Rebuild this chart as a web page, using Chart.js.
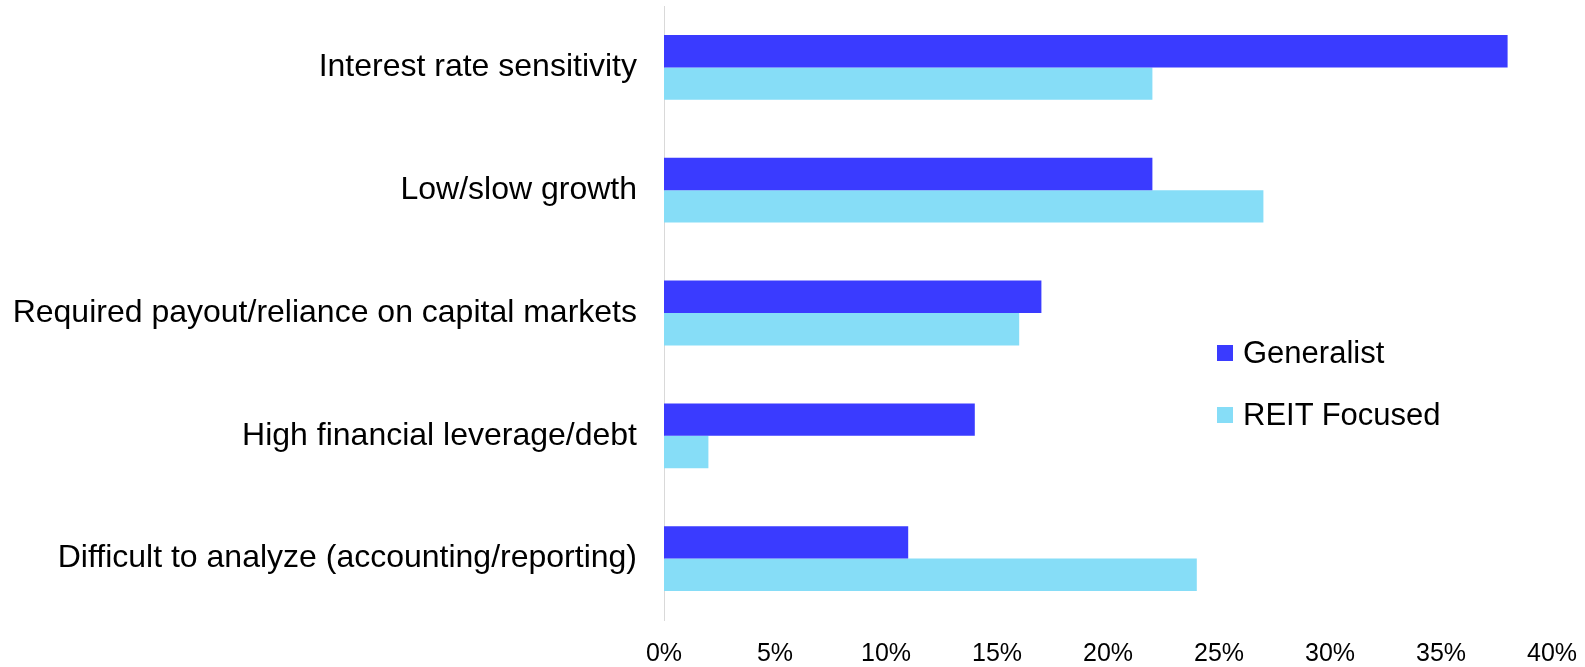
<!DOCTYPE html>
<html lang="en">
<head>
<meta charset="UTF-8">
<title>REIT concerns</title>
<script src="https://cdn.jsdelivr.net/npm/chart.js"></script>
<style>
    html, body {
        margin: 0;
        padding: 0;
        background: #fff;
        font-family: "Liberation Sans", Arial, sans-serif;
    }
    .wrap {
        position: relative;
        width: 1585px;
        height: 667px;
    }
    .legend {
        position: absolute;
        left: 1217px;
        top: 333px;
        font-size: 31px;
        color: #000;
    }
    .legend div {
        display: flex;
        align-items: center;
        height: 40px;
        margin-bottom: 22px;
    }
    .legend span.box {
        display: inline-block;
        width: 16px;
        height: 16px;
        margin-right: 10px;
    }
</style>
</head>
<body>
<div class="wrap">
    <canvas id="chart" width="1585" height="667"></canvas>
    <div class="legend" id="legend"></div>
</div>
<script>
const categories = [
    "Interest rate sensitivity",
    "Low/slow growth",
    "Required payout/reliance on capital markets",
    "High financial leverage/debt",
    "Difficult to analyze (accounting/reporting)"
];
const generalist = [38, 22, 17, 14, 11];
const reitFocused = [22, 27, 16, 2, 24];
const seriesNames = ["Generalist", "REIT Focused"];
const seriesColors = ["#3a3bff", "#86ddf7"];

const chart = new Chart(document.getElementById('chart'), {
    type: 'bar',
    data: {
        labels: categories,
        datasets: [
            { label: seriesNames[0], data: generalist, backgroundColor: seriesColors[0] },
            { label: seriesNames[1], data: reitFocused, backgroundColor: seriesColors[1] }
        ]
    },
    options: {
        indexAxis: 'y',
        responsive: false,
        animation: false,
        layout: { padding: 0 },
        datasets: { bar: { categoryPercentage: 0.528, barPercentage: 1 } },
        plugins: {
            legend: { display: false },
            tooltip: { enabled: false }
        },
        scales: {
            x: {
                min: 0,
                max: 40,
                grid: { display: false, drawTicks: false },
                border: { display: false },
                ticks: {
                    stepSize: 5,
                    padding: 19,
                    color: '#000',
                    font: { family: 'Liberation Sans', size: 25 },
                    callback: v => v + '%'
                },
                afterFit: s => { s.height = 47; s.paddingLeft = 0; s.paddingRight = 33; }
            },
            y: {
                grid: { display: false, drawTicks: false },
                border: { display: true, color: '#d9d9d9', width: 1 },
                ticks: {
                    padding: 27,
                    color: '#000',
                    font: { family: 'Liberation Sans', size: 32 }
                },
                afterFit: s => { s.width = 664; s.paddingTop = 6; s.paddingBottom = 0; }
            }
        }
    }
});

// legend built from the series arrays
const legend = document.getElementById('legend');
seriesNames.forEach((name, i) => {
    const row = document.createElement('div');
    row.innerHTML = `<span class="box" style="background:${seriesColors[i]}"></span>${name}`;
    legend.appendChild(row);
});
</script>
</body>
</html>
